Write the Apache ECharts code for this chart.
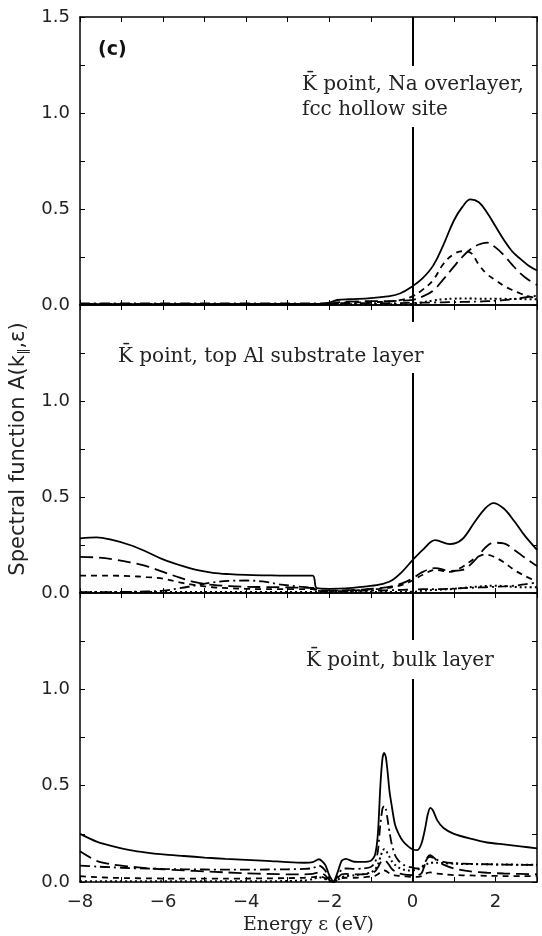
<!DOCTYPE html>
<html>
<head>
<meta charset="utf-8">
<script src="https://cdn.jsdelivr.net/npm/echarts@6/dist/echarts.min.js"></script>
<style>
  html, body { margin: 0; padding: 0; background: #fff; }
  #chart { width: 542px; height: 936px; }
</style>
</head>
<body>
<div id="chart"></div>
<script>
// energy grids (eV) and spectral function values

// (top) Na overlayer, fcc hollow site
var eA = [-8, -6, -4, -2.2, -2.0, -1.8, -1.5, -1.0, -0.6, -0.3, 0, 0.25, 0.5, 0.75, 1.0, 1.2, 1.4, 1.6, 1.8, 2.0, 2.2, 2.4, 2.6, 2.8, 3.0];
var solidA   = [0.005, 0.005, 0.005, 0.006, 0.012, 0.026, 0.03, 0.036, 0.045, 0.06, 0.097, 0.14, 0.205, 0.315, 0.44, 0.51, 0.55, 0.535, 0.48, 0.41, 0.34, 0.28, 0.24, 0.205, 0.18];
var longA    = [0.004, 0.004, 0.004, 0.004, 0.006, 0.014, 0.018, 0.02, 0.02, 0.022, 0.027, 0.045, 0.075, 0.135, 0.2, 0.25, 0.29, 0.315, 0.325, 0.3, 0.26, 0.21, 0.165, 0.13, 0.105];
var shortA   = [0.003, 0.003, 0.003, 0.003, 0.005, 0.01, 0.013, 0.015, 0.018, 0.025, 0.045, 0.08, 0.13, 0.215, 0.265, 0.28, 0.272, 0.21, 0.16, 0.13, 0.1, 0.078, 0.06, 0.045, 0.035];
var dotA     = [0.004, 0.004, 0.004, 0.004, 0.004, 0.004, 0.004, 0.004, 0.004, 0.004, 0.006, 0.014, 0.024, 0.03, 0.033, 0.034, 0.034, 0.033, 0.033, 0.032, 0.032, 0.031, 0.031, 0.03, 0.03];
var dashDotA = [0.008, 0.008, 0.008, 0.008, 0.008, 0.009, 0.01, 0.01, 0.01, 0.01, 0.011, 0.012, 0.013, 0.014, 0.015, 0.016, 0.017, 0.018, 0.02, 0.022, 0.025, 0.03, 0.036, 0.042, 0.048];

// (middle) top Al substrate layer
var eB = [-8, -7.6, -7.2, -6.8, -6.4, -6.0, -5.6, -5.2, -4.8, -4.4, -4.0, -3.6, -3.2, -2.8, -2.4, -2.3, -2.0, -1.6, -1.2, -0.8, -0.5, -0.25, 0, 0.25, 0.55, 0.9, 1.2, 1.5, 1.75, 1.95, 2.2, 2.45, 2.7, 3.0];
var solidB   = [0.285, 0.29, 0.275, 0.25, 0.215, 0.175, 0.145, 0.12, 0.105, 0.098, 0.094, 0.092, 0.091, 0.09, 0.09, 0.025, 0.022, 0.024, 0.032, 0.043, 0.065, 0.11, 0.17, 0.225, 0.275, 0.255, 0.28, 0.37, 0.44, 0.468, 0.44, 0.375, 0.3, 0.225];
var longB    = [0.188, 0.185, 0.175, 0.16, 0.14, 0.11, 0.08, 0.055, 0.042, 0.036, 0.032, 0.031, 0.03, 0.028, 0.026, 0.016, 0.012, 0.014, 0.018, 0.025, 0.035, 0.05, 0.075, 0.11, 0.13, 0.115, 0.12, 0.17, 0.235, 0.262, 0.258, 0.225, 0.185, 0.14];
var shortB   = [0.09, 0.09, 0.09, 0.088, 0.083, 0.075, 0.055, 0.04, 0.03, 0.025, 0.022, 0.02, 0.02, 0.02, 0.02, 0.015, 0.012, 0.013, 0.016, 0.022, 0.03, 0.042, 0.065, 0.095, 0.12, 0.11, 0.135, 0.18, 0.2, 0.19, 0.16, 0.12, 0.09, 0.06];
var dotB     = [0.005, 0.005, 0.005, 0.005, 0.005, 0.005, 0.005, 0.005, 0.005, 0.005, 0.005, 0.005, 0.005, 0.005, 0.005, 0.005, 0.005, 0.005, 0.005, 0.005, 0.005, 0.005, 0.006, 0.012, 0.016, 0.02, 0.026, 0.032, 0.036, 0.038, 0.036, 0.032, 0.03, 0.03];
var dashDotB = [0.004, 0.004, 0.005, 0.006, 0.008, 0.012, 0.025, 0.04, 0.055, 0.063, 0.065, 0.06, 0.045, 0.035, 0.025, 0.012, 0.01, 0.01, 0.012, 0.013, 0.015, 0.016, 0.018, 0.02, 0.02, 0.022, 0.025, 0.028, 0.03, 0.032, 0.034, 0.038, 0.045, 0.055];

// (bottom) bulk layer
var eC = [-8, -7.6, -7.2, -6.8, -6.4, -6.0, -5.5, -5.0, -4.5, -4.0, -3.5, -3.0,
          -2.6, -2.4, -2.25, -2.1, -2.0, -1.9, -1.8, -1.7, -1.6, -1.4, -1.2, -1.0,
          -0.9, -0.83, -0.77, -0.72, -0.68, -0.64, -0.6, -0.55, -0.5, -0.42, -0.33, -0.22, -0.1,
          0, 0.12, 0.22, 0.3, 0.37, 0.43, 0.5, 0.6, 0.75,
          1.0, 1.4, 1.8, 2.2, 2.6, 3.0];
var solidC   = [0.25, 0.21, 0.185, 0.165, 0.152, 0.143, 0.135, 0.127, 0.12, 0.115, 0.11, 0.103,
                0.1, 0.103, 0.118, 0.09, 0.035, 0.003, 0.05, 0.11, 0.12, 0.105, 0.104, 0.11,
                0.14, 0.25, 0.5, 0.64, 0.67, 0.65, 0.58, 0.47, 0.4, 0.3, 0.25, 0.21, 0.185,
                0.17, 0.165, 0.2, 0.27, 0.35, 0.385, 0.37, 0.32, 0.28,
                0.25, 0.225, 0.205, 0.195, 0.185, 0.175];
var longC    = [0.16, 0.11, 0.09, 0.08, 0.072, 0.066, 0.06, 0.055, 0.05, 0.045, 0.042, 0.04,
                0.04, 0.042, 0.05, 0.035, 0.01, 0.0, 0.02, 0.04, 0.042, 0.04, 0.04, 0.045,
                0.055, 0.075, 0.1, 0.11, 0.115, 0.11, 0.1, 0.085, 0.07, 0.055, 0.045, 0.04, 0.037,
                0.035, 0.035, 0.045, 0.09, 0.13, 0.14, 0.13, 0.11, 0.09,
                0.07, 0.055, 0.048, 0.044, 0.042, 0.04];
var shortC   = [0.03, 0.025, 0.022, 0.02, 0.019, 0.018, 0.017, 0.017, 0.017, 0.018, 0.019, 0.02,
                0.022, 0.025, 0.03, 0.02, 0.006, 0.0, 0.008, 0.02, 0.022, 0.022, 0.024, 0.028,
                0.032, 0.04, 0.05, 0.058, 0.06, 0.058, 0.052, 0.045, 0.04, 0.035, 0.032, 0.03, 0.028,
                0.027, 0.027, 0.03, 0.04, 0.048, 0.05, 0.048, 0.044, 0.04,
                0.036, 0.034, 0.032, 0.031, 0.03, 0.03];
var dotC     = [0.004, 0.004, 0.004, 0.004, 0.004, 0.004, 0.004, 0.004, 0.004, 0.004, 0.004, 0.005,
                0.008, 0.015, 0.025, 0.015, 0.004, 0.0, 0.01, 0.025, 0.03, 0.035, 0.04, 0.05,
                0.065, 0.09, 0.13, 0.16, 0.17, 0.165, 0.15, 0.13, 0.11, 0.09, 0.075, 0.065, 0.06,
                0.06, 0.065, 0.075, 0.085, 0.095, 0.1, 0.1, 0.1, 0.098,
                0.095, 0.093, 0.092, 0.091, 0.09, 0.09];
var dashDotC = [0.085, 0.08, 0.076, 0.072, 0.07, 0.068, 0.066, 0.065, 0.064, 0.064, 0.065, 0.066,
                0.068, 0.072, 0.085, 0.06, 0.02, 0.0, 0.03, 0.065, 0.07, 0.068, 0.07, 0.078,
                0.1, 0.16, 0.3, 0.38, 0.395, 0.38, 0.33, 0.26, 0.2, 0.14, 0.11, 0.09, 0.08,
                0.075, 0.07, 0.075, 0.1, 0.125, 0.13, 0.125, 0.115, 0.105,
                0.098, 0.094, 0.092, 0.09, 0.089, 0.088];

var panelLabels = ['K\u0304 point, Na overlayer,\nfcc hollow site', 'K\u0304 point, top Al substrate layer', 'K\u0304 point, bulk layer'];
var xTickLabels = [-8, -6, -4, -2, 0, 2];
var yTickLabels = [0, 0.5, 1.0, 1.5];

var lineTypes = {
    solid: 'solid',
    longDash: [13, 6],
    shortDash: [6, 5],
    dot: [2, 3],
    dashDot: [10, 4, 2, 4]
};

var panels = [
    { e: eA, smooth: 0.4, solid: solidA, longDash: longA, shortDash: shortA, dot: dotA, dashDot: dashDotA },
    { e: eB, smooth: 0.35, solid: solidB, longDash: longB, shortDash: shortB, dot: dotB, dashDot: dashDotB },
    { e: eC, smooth: 0.25, solid: solidC, longDash: longC, shortDash: shortC, dot: dotC, dashDot: dashDotC }
];

var gridTops = [17, 305, 593];
var gridHeights = [288, 288, 290];

function zip(xs, ys) {
    return xs.map(function (x, i) { return [x, ys[i]]; });
}

var axisLineStyle = { color: '#000', width: 1.5 };
var tickFont = 'DejaVu Sans';

var grids = [], xAxes = [], yAxes = [], series = [];

panels.forEach(function (p, i) {
    grids.push({ left: 80, right: 5, top: gridTops[i], height: gridHeights[i] });

    // bottom and top x axes (frame + inward ticks)
    xAxes.push({
        gridIndex: i, type: 'value', min: -8, max: 3, interval: 1, position: 'bottom',
        axisLine: { onZero: false, lineStyle: axisLineStyle },
        axisTick: { inside: true, length: 5, lineStyle: { color: '#000', width: 1 } },
        axisLabel: {
            show: i === 2, margin: 11, color: '#222', fontFamily: tickFont, fontSize: 18,
            formatter: function (v) {
                if (xTickLabels.indexOf(v) < 0) return '';
                return v < 0 ? '\u2212' + Math.abs(v) : String(v);
            }
        },
        splitLine: { show: false },
        name: i === 2 ? 'Energy \u03b5 (eV)' : '',
        nameLocation: 'middle', nameGap: 34,
        nameTextStyle: { fontFamily: 'DejaVu Serif', fontSize: 19, color: '#222' }
    });
    xAxes.push({
        gridIndex: i, type: 'value', min: -8, max: 3, interval: 1, position: 'top',
        axisLine: { onZero: false, lineStyle: axisLineStyle },
        axisTick: { inside: true, length: 5, lineStyle: { color: '#000', width: 1 } },
        axisLabel: { show: false },
        splitLine: { show: false }
    });

    yAxes.push({
        gridIndex: i, type: 'value', min: 0, max: 1.5, interval: 0.25, position: 'left',
        axisLine: { onZero: false, lineStyle: axisLineStyle },
        axisTick: { inside: true, length: 5, lineStyle: { color: '#000', width: 1 } },
        axisLabel: {
            margin: 10, color: '#222', fontFamily: tickFont, fontSize: 18,
            formatter: function (v) {
                if (yTickLabels.indexOf(v) < 0) return '';
                if (i > 0 && v === 1.5) return '';
                return v.toFixed(1);
            }
        },
        splitLine: { show: false },
        name: i === 1 ? 'Spectral function A(k{sub|\u2225},\u03b5)' : '',
        nameLocation: 'middle', nameGap: 50, nameRotate: 90,
        nameTextStyle: {
            fontFamily: 'DejaVu Sans', fontSize: 21, color: '#222',
            rich: { sub: { fontFamily: 'DejaVu Sans', fontSize: 13, verticalAlign: 'bottom', padding: [9, 0, 0, 0] } }
        }
    });
    yAxes.push({
        gridIndex: i, type: 'value', min: 0, max: 1.5, interval: 0.25, position: 'right',
        axisLine: { onZero: false, lineStyle: axisLineStyle },
        axisTick: { inside: true, length: 5, lineStyle: { color: '#000', width: 1 } },
        axisLabel: { show: false },
        splitLine: { show: false }
    });

    ['solid', 'longDash', 'shortDash', 'dashDot', 'dot'].forEach(function (key) {
        var s = {
            type: 'line',
            xAxisIndex: i * 2,
            yAxisIndex: i * 2,
            data: zip(p.e, p[key]),
            showSymbol: false,
            smooth: p.smooth,
            lineStyle: { color: '#000', width: key === 'dot' ? 2 : 1.8, type: lineTypes[key] },
            silent: true,
            animation: false
        };
        if (key === 'solid') {
            // Fermi level marker
            s.markLine = {
                symbol: 'none', silent: true, animation: false,
                label: { show: false },
                lineStyle: { color: '#000', width: 2, type: 'solid' },
                data: [{ xAxis: 0 }]
            };
        }
        series.push(s);
    });
});

var titleStyle = { fontFamily: 'DejaVu Serif', fontSize: 20, fontWeight: 'normal', color: '#222', lineHeight: 25 };

var option = {
    backgroundColor: '#fff',
    animation: false,
    title: [
        { text: '(c)', left: 96, top: 39, padding: 2,
          textStyle: { fontFamily: 'DejaVu Sans', fontWeight: 'bold', fontSize: 19, color: '#111' } },
        { text: panelLabels[0], left: 298, top: 66, padding: [6, 4, 5, 4], backgroundColor: '#fff', textStyle: titleStyle },
        { text: panelLabels[1], left: 114, top: 322, padding: [22, 4, 4, 4], backgroundColor: '#fff', textStyle: titleStyle },
        { text: panelLabels[2], left: 302, top: 640, padding: [8, 4, 6, 4], backgroundColor: '#fff', textStyle: titleStyle }
    ],
    grid: grids,
    xAxis: xAxes,
    yAxis: yAxes,
    series: series
};

var chart = echarts.init(document.getElementById('chart'), null, { renderer: 'canvas' });
chart.setOption(option);
</script>
</body>
</html>
